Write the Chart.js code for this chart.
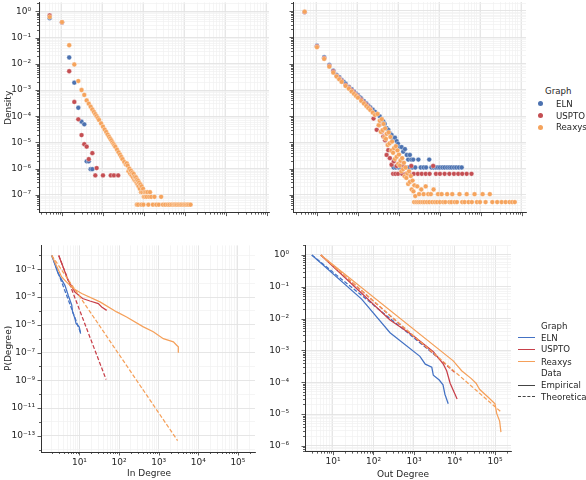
<!DOCTYPE html>
<html>
<head>
<meta charset="utf-8">
<script src="https://cdn.jsdelivr.net/npm/chart.js@4.4.0/dist/chart.umd.min.js"></script>
<style>
  body { margin: 0; background: #fff; width: 586px; height: 480px; position: relative; overflow: hidden;
         font-family: "DejaVu Sans", sans-serif; color: #262626; }
  canvas { position: absolute; }
  .txt { position: absolute; font-size: 8.6px; white-space: nowrap; line-height: 10px; }
  .ax { font-size: 9px; }
  .rot { transform: rotate(-90deg); transform-origin: center; }
  .dot { position: absolute; width: 5px; height: 5px; border-radius: 50%; }
  .hl { position: absolute; width: 17px; height: 0; }
</style>
</head>
<body>
<canvas id="tl"></canvas>
<canvas id="tr"></canvas>
<canvas id="bl"></canvas>
<canvas id="br"></canvas>

<div class="txt ax rot" style="left:-9px;top:103px;width:34px;text-align:center;">Density</div>
<div class="txt ax rot" style="left:-13px;top:345px;width:42px;text-align:center;">P(Degree)</div>
<div class="txt ax" style="left:124px;top:468px;width:50px;text-align:center;">In Degree</div>
<div class="txt ax" style="left:373px;top:469px;width:60px;text-align:center;">Out Degree</div>

<!-- top legend -->
<div class="txt" style="left:545px;top:86px;">Graph</div>
<div class="dot" style="left:538px;top:101px;background:#4c72b0"></div>
<div class="txt" style="left:556px;top:99px;">ELN</div>
<div class="dot" style="left:538px;top:113px;background:#c44e52"></div>
<div class="txt" style="left:556px;top:111px;">USPTO</div>
<div class="dot" style="left:538px;top:125px;background:#f5a35c"></div>
<div class="txt" style="left:556px;top:122px;">Reaxys</div>

<!-- bottom legend -->
<div class="txt" style="left:541px;top:321px;">Graph</div>
<div class="hl" style="left:518px;top:337px;border-top:1.3px solid #4472c4"></div>
<div class="txt" style="left:541px;top:333px;">ELN</div>
<div class="hl" style="left:518px;top:349px;border-top:1.3px solid #c8404a"></div>
<div class="txt" style="left:541px;top:344px;">USPTO</div>
<div class="hl" style="left:518px;top:361px;border-top:1.3px solid #f5a05a"></div>
<div class="txt" style="left:541px;top:357px;">Reaxys</div>
<div class="txt" style="left:541px;top:368px;">Data</div>
<div class="hl" style="left:518px;top:385px;border-top:1.5px solid #444"></div>
<div class="txt" style="left:541px;top:380px;">Empirical</div>
<div class="hl" style="left:518px;top:396px;border-top:1.5px dashed #444"></div>
<div class="txt" style="left:541px;top:392px;">Theoretical</div>

<script>
// ---- data: [degree, value] ----
// top left: in degree density
const inElnPts = [[0.5,0.55],[1,0.38],[1.5,0.0174],[2,0.0019],[2.5,2.1e-4],[3,6.2e-5],[3.5,4.9e-5],
  [4,1.9e-6],[4.5,1.9e-6],[5,9.5e-7],[5.5,9.5e-7]];
const inUsptoPts = [[0.5,0.70],[1,0.38],[1.5,0.0052],[2,3.5e-4],[2.5,7.6e-5],[3,1.9e-5],[3.5,8.5e-6],
  [4,6.9e-6],[4.5,2.3e-6],[5.5,3.9e-6],[6.5,5.5e-7],[7,1.05e-6],[10,5.5e-7],[15.5,5.5e-7],[18.5,5.5e-7],[23.5,5.5e-7]];
const inReaxysPts = [[0.5,0.61],[1,0.39],[1.5,0.051],[2,0.0094],[2.5,0.0022],[3,0.001],[3.5,6.5e-4],
  [4,4.0e-4],[4.5,3.0e-4],[5,2.3e-4],[5.5,1.8e-4],[6,1.45e-4],[6.5,1.2e-4],[7,1.0e-4],[7.5,8.5e-5],
  [8,7.2e-5],[9,5.3e-5],[10,4.0e-5],[11,3.1e-5],[12,2.5e-5],[13,2.0e-5],[14,1.65e-5],[15,1.4e-5],
  [16,1.2e-5],[17,1.0e-5],[18,8.8e-6],[19,7.7e-6],[20,6.8e-6],[22,5.3e-6],[24,4.2e-6],[26,3.4e-6],
  [28,2.8e-6],[30,2.3e-6],[33,1.8e-6],[36,1.45e-6],[38,1.6e-6],
  [40,1.3e-6],[42,8.0e-7],[44,1.0e-6],[46,6.5e-7],[48,8.4e-7],[50,5.5e-7],[52,7.0e-7],[54,4.6e-7],
  [56,6.3e-7],[58,3.8e-7],[60,5.0e-7],[62,3.4e-7],[64,4.6e-7],[66,2.9e-7],[68,3.8e-7],[70,2.5e-7],
  [72,3.4e-7],[74,2.1e-7],[76,2.9e-7],[79,1.7e-7],[82,2.5e-7],[85,1.26e-7],[88,2.1e-7],[91,1.26e-7],
  [95,1.7e-7],[99,8.4e-8],[103,1.26e-7],[107,8.4e-8],[112,1.26e-7],[117,8.4e-8],[122,1.26e-7],
  [134,8.4e-8],[140,1.26e-7],[150,8.4e-8],[180,8.4e-8],[262,8.4e-8],
  [67,4.2e-8],[72,4.2e-8],[86,4.2e-8],[97,4.2e-8],[128,4.2e-8],[165,4.2e-8],[200,4.2e-8],[230,4.2e-8],
  [290,4.2e-8],[330,4.2e-8],[380,4.2e-8],[420,4.2e-8],[470,4.2e-8],[520,4.2e-8],[560,4.2e-8],[600,4.2e-8],
  [640,4.2e-8],[700,4.2e-8],[760,4.2e-8],[820,4.2e-8],[900,4.2e-8],[980,4.2e-8],[1060,4.2e-8],
  [1150,4.2e-8],[1250,4.2e-8],[1370,4.2e-8]];

// top right: out degree density
const outElnPts = [[0.5,0.9],[1,0.048],[1.5,0.0173],[2,0.0089],[2.5,0.0054],[3,0.0037],[3.5,0.0030],
  [4,0.0024],[4.5,0.0020],[5,0.0017],[6,0.0013],[7,0.00105],[8,8.5e-4],[9,7.1e-4],[10,6.2e-4],
  [11,5.3e-4],[12,4.7e-4],[14,3.7e-4],[16,3.0e-4],[18,2.5e-4],[20,2.15e-4],[23,1.75e-4],[26,1.45e-4],
  [30,1.17e-4],[34,9.8e-5],[38,7.5e-5],[41.5,6.2e-5],[45,5.0e-5],[50,3.5e-5],[55,3.0e-5],[60,2.2e-5],
  [66,1.9e-5],[72,1.3e-5],[80,1.5e-5],[88,1.1e-5],[95,8.8e-6],[105,6.6e-6],[116,6.6e-6],[127,4.4e-6],
  [140,5.5e-6],[155,3.3e-6],[168,2.2e-6],[185,3.3e-6],[200,2.2e-6],[223,2.2e-6],[298,2.2e-6],[548,2.2e-6],
  [74,1.1e-6],[84,1.1e-6],[100,1.1e-6],[112,1.1e-6],[133,1.1e-6],[148,1.1e-6],[178,1.1e-6],[210,1.1e-6],
  [250,1.1e-6],[340,1.1e-6],[400,1.1e-6],[460,1.1e-6],[620,1.1e-6],[700,1.1e-6],[800,1.1e-6],
  [900,1.1e-6],[1000,1.1e-6],[1150,1.1e-6],[1300,1.1e-6],[1500,1.1e-6],[1700,1.1e-6],[1900,1.1e-6],
  [2200,1.1e-6],[2500,1.1e-6],[2900,1.1e-6],[3400,1.1e-6]];
const outUsptoPts = [[0.5,0.9],[1,0.045],[1.5,0.016],[2,0.0082],[2.5,0.005],[3,0.0034],[3.5,0.0027],
  [4,0.0022],[5,0.0015],[6,0.0012],[7,9.5e-4],[8,7.7e-4],[9,6.4e-4],[10,5.5e-4],[12,4.2e-4],[14,3.3e-4],
  [16,2.7e-4],[18,2.2e-4],[20,1.85e-4],[24,8e-5],[28.6,3.0e-5],[33,4.5e-5],[38,2.5e-5],[41.6,1.66e-5],
  [46,1.2e-5],[50,3.3e-6],[55,5e-6],[60,2.5e-6],[66,1.4e-6],[75,1.9e-6],[88,1.26e-6],[110,1.9e-6],
  [127,1.26e-6],[200,1.26e-6],[685,1.26e-6],
  [72,6.3e-7],[82,6.3e-7],[95,6.3e-7],[120,6.3e-7],[150,6.3e-7],[180,6.3e-7],[230,6.3e-7],[290,6.3e-7],
  [360,6.3e-7],[450,6.3e-7],[560,6.3e-7],[800,6.3e-7],[1000,6.3e-7],[1300,6.3e-7],[1700,6.3e-7],
  [2200,6.3e-7],[2800,6.3e-7],[3500,6.3e-7],[4500,6.3e-7],[5900,6.3e-7]];
const outReaxysPts = [[0.5,0.94],[1,0.042],[1.5,0.015],[2,0.0076],[2.5,0.0045],[3,0.0032],[3.5,0.0025],
  [4,0.002],[5,0.0014],[6,0.0011],[7,8.6e-4],[8,7e-4],[9,5.8e-4],[10,5e-4],[12,3.8e-4],[14,3e-4],
  [16,2.4e-4],[18,2e-4],[20,1.7e-4],[23,1.35e-4],[26,1.1e-4],
  [30,1.2e-4],[32,4.5e-5],[34,6.6e-5],[36,2.5e-5],[38,7.6e-5],[40,2.9e-5],[42,5.0e-5],[44,1.55e-5],
  [46,3.4e-5],[48,1.35e-5],[50,2.1e-5],[53,7.9e-6],[56,2.4e-5],[59,9.1e-6],[62,1.6e-5],[65,4.8e-6],
  [68,1.07e-5],[72,4.0e-6],[76,6.0e-6],[80,2.3e-6],[84,7.1e-6],[88,2.8e-6],[92,4.9e-6],[96,1.5e-6],
  [100,3.4e-6],[105,1.3e-6],[110,2.0e-6],[115,7.9e-7],[120,2.5e-6],[126,9.5e-7],[132,1.66e-6],
  [138,5.1e-7],[145,1.1e-6],[152,4.4e-7],[160,6.6e-7],[168,2.6e-7],[176,7.9e-7],[185,3.1e-7],
  [195,5.2e-7],[205,1.6e-7],[215,3.5e-7],[226,1.35e-7],[238,2.3e-7],[250,9e-8],
  [280,2.1e-7],[310,1.06e-7],[350,1.6e-7],[400,1.06e-7],[450,2.1e-7],
  [520,1.06e-7],[600,1.06e-7],[700,1.6e-7],[900,1.06e-7],[1100,1.06e-7],[1500,1.06e-7],[2000,1.06e-7],
  [3000,1.06e-7],[4500,1.06e-7],[7000,1.06e-7],[11000,1.06e-7],[16500,1.06e-7],
  [235,5.3e-8],[265,5.3e-8],[295,5.3e-8],[330,5.3e-8],[375,5.3e-8],[420,5.3e-8],[480,5.3e-8],
  [550,5.3e-8],[650,5.3e-8],[750,5.3e-8],[850,5.3e-8],[1000,5.3e-8],[1200,5.3e-8],[1350,5.3e-8],
  [1700,5.3e-8],[1900,5.3e-8],[2300,5.3e-8],[2600,5.3e-8],[3500,5.3e-8],[4000,5.3e-8],[5000,5.3e-8],
  [6000,5.3e-8],[8000,5.3e-8],[9500,5.3e-8],[13000,5.3e-8],[19000,5.3e-8],[25000,5.3e-8],[32000,5.3e-8],
  [40000,5.3e-8],[50000,5.3e-8],[58000,5.3e-8],[67000,5.3e-8]];

// bottom left: in degree CCDF, empirical and fitted (both start at x_min)
const inElnEmp = [[2,1],[2.9,0.049],[4.3,0.007],[5.2,1.35e-3],[6.4,2.6e-4],[6.7,8.5e-5],[7.7,2.8e-5],
  [8.2,1.26e-5],[9.9,7e-6],[10.7,2.3e-6]];
const inElnFit = [[2,1],[10.5,3e-6]];
const inUsptoEmp = [[3,1],[5.2,0.016],[7.7,2.3e-3],[12,7.8e-4],[18.4,5.2e-4],[29.9,3.4e-4],[36.4,1.95e-4],[48.7,1.1e-4]];
const inUsptoFit = [[3,1],[47,1.15e-9]];
const inReaxysEmp = [[2,1],[3.55,0.028],[4.75,0.012],[7,4.1e-3],[11.4,1.8e-3],[33,4.5e-4],[87,8.5e-5],
  [155,3.7e-5],[410,7.1e-6],[730,3.2e-6],[1310,1.0e-6],[2350,5.9e-7],[2840,3.4e-7],[3130,2.6e-7],[3130,9.5e-8]];
const inReaxysFit = [[2,1],[3000,4.5e-14]];

// bottom right: out degree CCDF
const outElnEmp = [[3,1],[51,0.041],[256,3.6e-3],[1400,6.5e-4],[1900,3.7e-4],[2750,2.95e-4],[3000,1.66e-4],
  [4200,1.17e-4],[5200,8.3e-5],[5800,4.2e-5],[7000,2.1e-5]];
const outElnFit = [[3,1],[4000,5.9e-4]];
const outUsptoEmp = [[5,1],[51,0.063],[256,9.1e-3],[960,2.9e-3],[3000,9.1e-4],[5300,3.7e-4],[6400,2.3e-4],
  [7800,9.3e-5],[11600,2.95e-5]];
const outUsptoFit = [[5,1],[11000,1.86e-4]];
const outReaxysEmp = [[5,1],[9300,4.7e-4],[15000,2.3e-4],[26000,1.3e-4],[34000,9.3e-5],[42000,5.9e-5],
  [69000,3.3e-5],[100000,2.1e-5],[110000,1.05e-5],[130000,6e-6],[140000,2.7e-6]];
const outReaxysFit = [[5,1],[140000,1.17e-5]];

const graphNames = ['ELN', 'USPTO', 'Reaxys'];
const dotColors = ['#4c72b0', '#c44e52', '#f5a35c'];
const lineColors = ['#4472c4', '#c8404a', '#f5a05a'];

// ---- helpers ----
const SUP = { '0':'⁰','1':'¹','2':'²','3':'³','4':'⁴','5':'⁵','6':'⁶','7':'⁷','8':'⁸','9':'⁹','-':'⁻' };
function powLabel(v) {
  const e = Math.round(Math.log10(v));
  return '10' + String(e).split('').map(c => SUP[c]).join('');
}

function logTicks(min, max, minor, isMajor) {
  const out = [];
  const e0 = Math.floor(Math.log10(min)), e1 = Math.ceil(Math.log10(max));
  for (let e = e0; e <= e1; e++) {
    (minor ? [1,2,3,4,5,6,7,8,9] : [1]).forEach(m => {
      const v = m * Math.pow(10, e);
      if (v < min || v > max) return;
      out.push({ value: v, major: m === 1 && isMajor(e) });
    });
  }
  return out;
}

// short outward tick marks, longer on the labelled decades
const tickMarks = {
  id: 'tickMarks',
  afterDraw(chart) {
    const ctx = chart.ctx, a = chart.chartArea;
    ctx.save();
    ctx.strokeStyle = '#333';
    ctx.lineWidth = 0.8;
    ['x', 'y'].forEach(id => {
      const s = chart.scales[id];
      s.ticks.forEach(t => {
        const p = Math.round(s.getPixelForValue(t.value)) + 0.5;
        const len = t.major ? 3.5 : 2;
        ctx.beginPath();
        if (id === 'x') { ctx.moveTo(p, a.bottom); ctx.lineTo(p, a.bottom + len); }
        else { ctx.moveTo(a.left, p); ctx.lineTo(a.left - len, p); }
        ctx.stroke();
      });
    });
    ctx.restore();
  }
};

function axis(o) {
  return {
    type: 'logarithmic',
    position: o.pos,
    min: o.min, max: o.max,
    afterBuildTicks: s => { s.ticks = logTicks(o.min, o.max, o.minor, o.isMajor); },
    afterFit: s => { if (o.pos === 'left') s.width = o.size; else s.height = o.size; },
    grid: {
      drawTicks: false,
      color: c => (c.tick && c.tick.major) ? '#e3e3e3' : '#f1f1f1',
      lineWidth: c => (c.tick && c.tick.major) ? 0.9 : 0.7
    },
    border: { display: true, color: '#333', width: 1 },
    ticks: {
      display: o.labels,
      autoSkip: false, maxRotation: 0, minRotation: 0,
      padding: o.pad,
      color: '#262626',
      font: { family: 'DejaVu Sans', size: 9 },
      callback: (v, i, ticks) => ticks[i].major ? powLabel(v) : ''
    }
  };
}

function dots(pts, i) {
  return {
    label: graphNames[i],
    data: pts.map(p => ({ x: p[0], y: p[1] })),
    pointRadius: 2.4,
    pointBackgroundColor: dotColors[i],
    pointBorderColor: '#ffffff',
    pointBorderWidth: 0.35,
    showLine: false,
    order: 2 - i
  };
}

function line(pts, i, dashed) {
  return {
    label: graphNames[i] + (dashed ? ' fit' : ''),
    data: pts.map(p => ({ x: p[0], y: p[1] })),
    showLine: true,
    pointRadius: 0,
    borderColor: lineColors[i],
    borderWidth: 1.25,
    borderDash: dashed ? [4, 2] : [],
    tension: 0,
    order: 2 - i
  };
}

const decades = () => true;
const oddDecades = e => e % 2 !== 0;

function panelConfig(datasets, xo, yo) {
  return {
    type: 'scatter',
    data: { datasets },
    options: {
      responsive: false,
      animation: false,
      devicePixelRatio: 1,
      layout: { padding: { top: 8, right: 8, left: 0, bottom: 0 } },
      plugins: { legend: { display: false }, tooltip: { enabled: false } },
      scales: { x: axis(xo), y: axis(yo) }
    },
    plugins: [tickMarks]
  };
}

// build twice: first to measure insets, then at the size that puts the plot box where wanted
function makePanel(id, box, build) {
  const cv = document.getElementById(id);
  const setSize = (w, h) => { cv.width = w; cv.height = h; cv.style.width = w + 'px'; cv.style.height = h + 'px'; };
  setSize(box.r - box.l + 80, box.b - box.t + 60);
  let ch = new Chart(cv, build());
  const a = ch.chartArea;
  const w = cv.width + (box.r - box.l) - (a.right - a.left);
  const h = cv.height + (box.b - box.t) - (a.bottom - a.top);
  ch.destroy();
  setSize(w, h);
  ch = new Chart(cv, build());
  const b = ch.chartArea;
  cv.style.left = (box.l - b.left) + 'px';
  cv.style.top = (box.t - b.top) + 'px';
  return ch;
}

const topY = { pos: 'left', min: 2.1e-8, max: 2.2, minor: true, isMajor: decades };

makePanel('tl', { l: 39, t: 2, r: 269, b: 213 }, () => panelConfig(
  [dots(inElnPts, 0), dots(inUsptoPts, 1), dots(inReaxysPts, 2)],
  { pos: 'bottom', min: 0.275, max: 112000, minor: true, isMajor: decades, labels: false, size: 1, pad: 0 },
  Object.assign({}, topY, { labels: true, size: 39, pad: 8 })
));

makePanel('tr', { l: 293, t: 2, r: 526, b: 213 }, () => panelConfig(
  [dots(outElnPts, 0), dots(outUsptoPts, 1), dots(outReaxysPts, 2)],
  { pos: 'bottom', min: 0.26, max: 126000, minor: true, isMajor: decades, labels: false, size: 1, pad: 0 },
  Object.assign({}, topY, { labels: false, size: 6, pad: 0 })
));

makePanel('bl', { l: 41, t: 245, r: 255, b: 452 }, () => panelConfig(
  [line(inElnEmp, 0, false), line(inElnFit, 0, true),
   line(inUsptoEmp, 1, false), line(inUsptoFit, 1, true),
   line(inReaxysEmp, 2, false), line(inReaxysFit, 2, true)],
  { pos: 'bottom', min: 1.07, max: 270000, minor: true, isMajor: decades, labels: true, size: 20, pad: 5 },
  { pos: 'left', min: 6.8e-15, max: 5.3, minor: false, isMajor: oddDecades, labels: true, size: 41, pad: 6 }
));

makePanel('br', { l: 305, t: 245, r: 511, b: 452 }, () => panelConfig(
  [line(outElnEmp, 0, false), line(outElnFit, 0, true),
   line(outUsptoEmp, 1, false), line(outUsptoFit, 1, true),
   line(outReaxysEmp, 2, false), line(outReaxysFit, 2, true)],
  { pos: 'bottom', min: 2.04, max: 248000, minor: true, isMajor: decades, labels: true, size: 20, pad: 5 },
  { pos: 'left', min: 6.6e-7, max: 2.0, minor: true, isMajor: decades, labels: true, size: 55, pad: 16 }
));
</script>
</body>
</html>
